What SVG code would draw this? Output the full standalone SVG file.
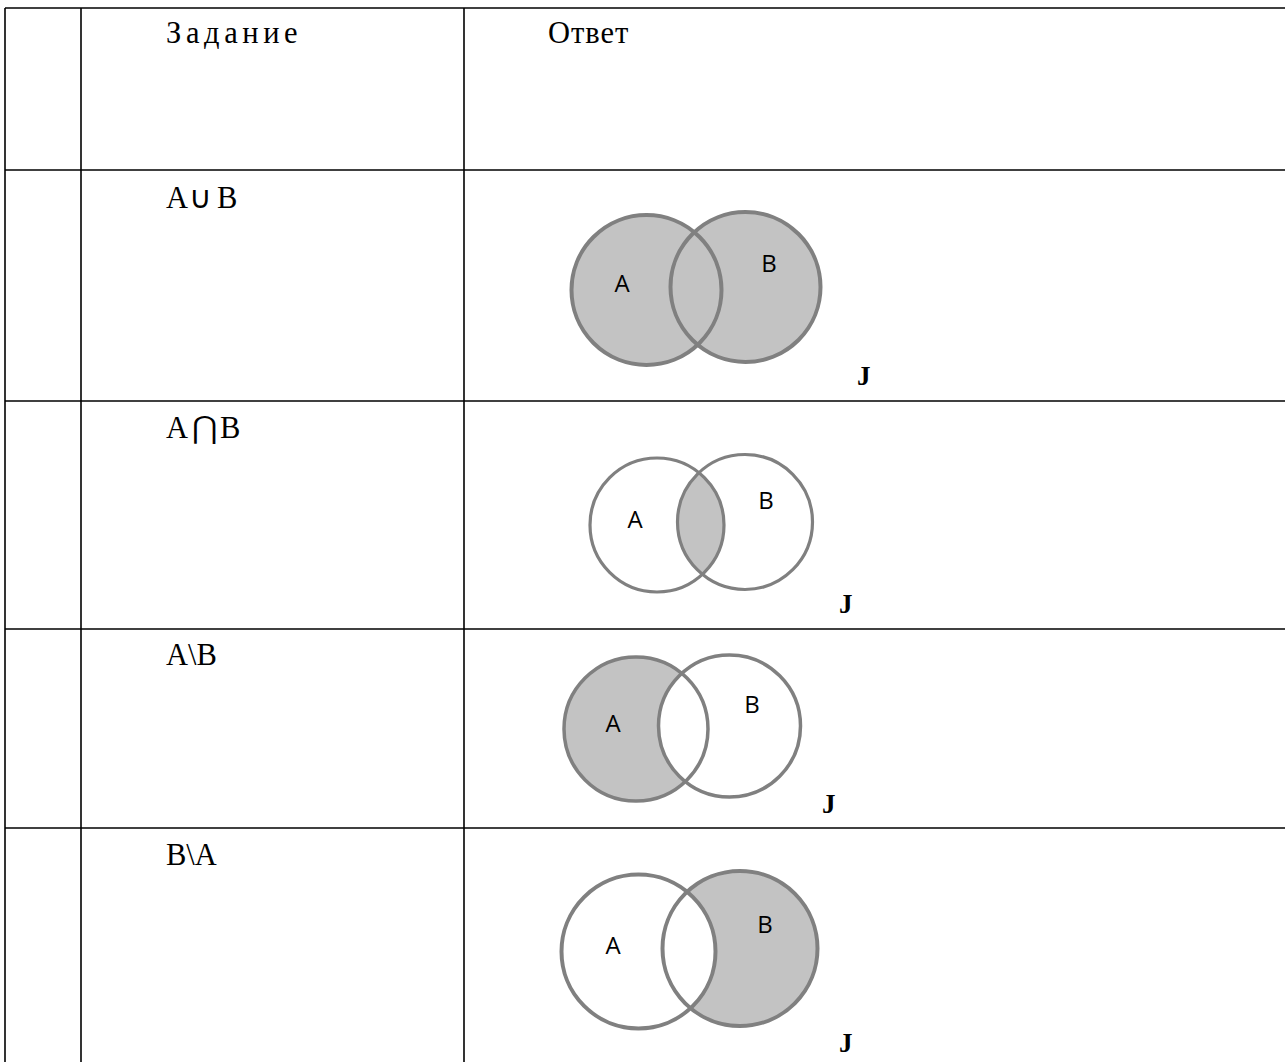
<svg xmlns="http://www.w3.org/2000/svg" width="1285" height="1062" viewBox="0 0 1285 1062">
<style>
.grid{stroke:#000;stroke-width:1.6;fill:none}
.t{font-family:"Liberation Serif","Times New Roman",serif;font-size:30.5px;fill:#000}
.j{font-family:"Liberation Serif","Times New Roman",serif;font-size:27px;font-weight:bold;fill:#000}
.lbl{font-family:"Open Sans","Liberation Sans",sans-serif;font-size:24px;fill:#000;text-anchor:middle}
.o{fill:none;stroke:#808080}
.f{fill:#c3c3c3;stroke:none}
.w{fill:#fff;stroke:none}
</style>
<defs>
<clipPath id="clipA2"><circle cx="657" cy="525" r="67"/></clipPath>
</defs>
<rect width="1285" height="1062" fill="#fff"/>
<g id="table">
<line class="grid" x1="5" y1="8" x2="1285" y2="8"/>
<line class="grid" x1="5" y1="170" x2="1285" y2="170"/>
<line class="grid" x1="5" y1="401" x2="1285" y2="401"/>
<line class="grid" x1="5" y1="629" x2="1285" y2="629"/>
<line class="grid" x1="5" y1="828" x2="1285" y2="828"/>
<line class="grid" x1="5" y1="8" x2="5" y2="1062"/>
<line class="grid" x1="81" y1="8" x2="81" y2="1062"/>
<line class="grid" x1="464" y1="8" x2="464" y2="1062"/>
</g>
<g id="header">
<text class="t" x="166" y="43" letter-spacing="4.6">Задание</text>
<text class="t" x="548" y="43" letter-spacing="1">Ответ</text>
</g>
<g id="row-union">
<text class="t" x="166" y="208">A<tspan x="189">∪</tspan><tspan x="217">B</tspan></text>
<circle class="f" cx="646.5" cy="290" r="75"/>
<circle class="f" cx="745.5" cy="287" r="75"/>
<circle class="o" cx="646.5" cy="290" r="75" stroke-width="4"/>
<circle class="o" cx="745.5" cy="287" r="75" stroke-width="4"/>
<text class="lbl" x="622" y="292">A</text>
<text class="lbl" x="769" y="272">B</text>
<text class="j" x="857" y="385">J</text>
</g>
<g id="row-intersection">
<text class="t" x="166" y="438">A<tspan x="192">⋂</tspan><tspan x="220">B</tspan></text>
<circle class="f" cx="745" cy="522" r="67.5" clip-path="url(#clipA2)"/>
<circle class="o" cx="657" cy="525" r="67" stroke-width="3.2"/>
<circle class="o" cx="745" cy="522" r="67.5" stroke-width="3.2"/>
<text class="lbl" x="635" y="528">A</text>
<text class="lbl" x="766" y="509">B</text>
<text class="j" x="839" y="613">J</text>
</g>
<g id="row-a-minus-b">
<text class="t" x="166" y="665">A\B</text>
<circle class="f" cx="636" cy="729" r="72"/>
<circle class="w" cx="729.5" cy="726" r="71"/>
<circle class="o" cx="636" cy="729" r="72" stroke-width="3.5"/>
<circle class="o" cx="729.5" cy="726" r="71" stroke-width="3.5"/>
<text class="lbl" x="613" y="732">A</text>
<text class="lbl" x="752" y="713">B</text>
<text class="j" x="822" y="813">J</text>
</g>
<g id="row-b-minus-a">
<text class="t" x="166" y="865">B\A</text>
<circle class="f" cx="740" cy="948.5" r="77.5"/>
<circle class="w" cx="638.5" cy="951.5" r="77"/>
<circle class="o" cx="638.5" cy="951.5" r="77" stroke-width="4"/>
<circle class="o" cx="740" cy="948.5" r="77.5" stroke-width="4"/>
<text class="lbl" x="613" y="954">A</text>
<text class="lbl" x="765" y="933">B</text>
<text class="j" x="839" y="1052">J</text>
</g>
</svg>
